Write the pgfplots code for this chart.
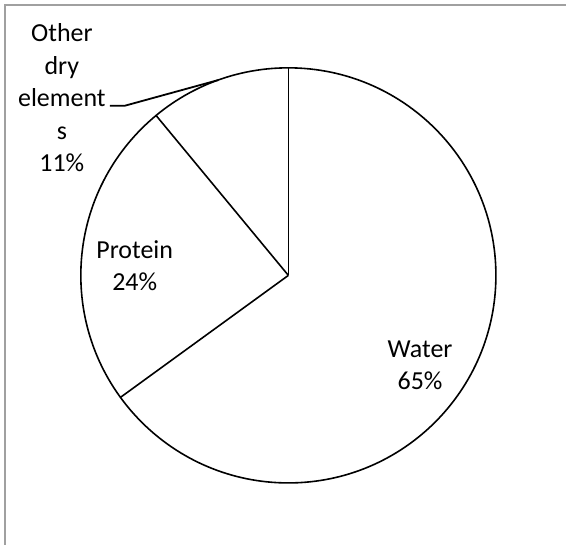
\documentclass[border=0pt]{standalone}
\usepackage{pgfplots}
\usepackage{pgfplotstable}
\pgfplotsset{compat=1.18}
\usetikzlibrary{calc}
\usepackage{fontspec}
\setmainfont{Carlito}
\definecolor{framegray}{RGB}{160,160,160}

\pgfplotstableread{
label pct
Water 65
Protein 24
Other 11
}\piedata

\pgfplotstablegetelem{0}{pct}\of\piedata \let\pWater\pgfplotsretval
\pgfplotstablegetelem{1}{pct}\of\piedata \let\pProtein\pgfplotsretval
\pgfplotstablegetelem{2}{pct}\of\piedata \let\pOther\pgfplotsretval
\pgfmathsetmacro{\aA}{90}
\pgfmathsetmacro{\aB}{90-3.6*\pWater}
\pgfmathsetmacro{\aC}{\aB-3.6*\pProtein}
\pgfmathsetmacro{\aMidOther}{\aC-3.6*\pOther/2}

\begin{document}
\begin{tikzpicture}
\begin{axis}[
  scale only axis,
  width=567bp, height=546bp,
  xmin=0, xmax=567, ymin=0, ymax=546,
  hide axis,
  clip=false,
]
% invisible box fixing the picture's extent
\path (axis cs:0,0) rectangle (axis cs:567,546);
% frame (top and left only, as cropped)
\draw[framegray, line width=2.5bp] (axis cs:5,0) -- (axis cs:5,541) -- (axis cs:567,541);
% pie
\draw[black, line width=1.6bp] (axis cs:289,270) circle[radius=208bp];
\draw[black, line width=1.6bp] (axis cs:289,270) -- ++(\aA:208bp);
\draw[black, line width=1.6bp] (axis cs:289,270) -- ++(\aB:208bp);
\draw[black, line width=1.6bp] (axis cs:289,270) -- ++(\aC:208bp);
% leader line
\draw[black, line width=1.8bp] (axis cs:110,440) -- (axis cs:125,440) -- ($(axis cs:289,270)+(\aMidOther:208bp)$);
% labels
\node[align=center, inner sep=0pt, font=\fontsize{26bp}{32.5bp}\selectfont] at (axis cs:62,448) {Other\\dry\\element\\s\\11\%};
\node[align=center, inner sep=0pt, font=\fontsize{26bp}{32.5bp}\selectfont] at (axis cs:135,280) {Protein\\24\%};
\node[align=center, inner sep=0pt, font=\fontsize{26bp}{32.5bp}\selectfont] at (axis cs:421,180) {Water\\65\%};
\end{axis}
\end{tikzpicture}
\end{document}
